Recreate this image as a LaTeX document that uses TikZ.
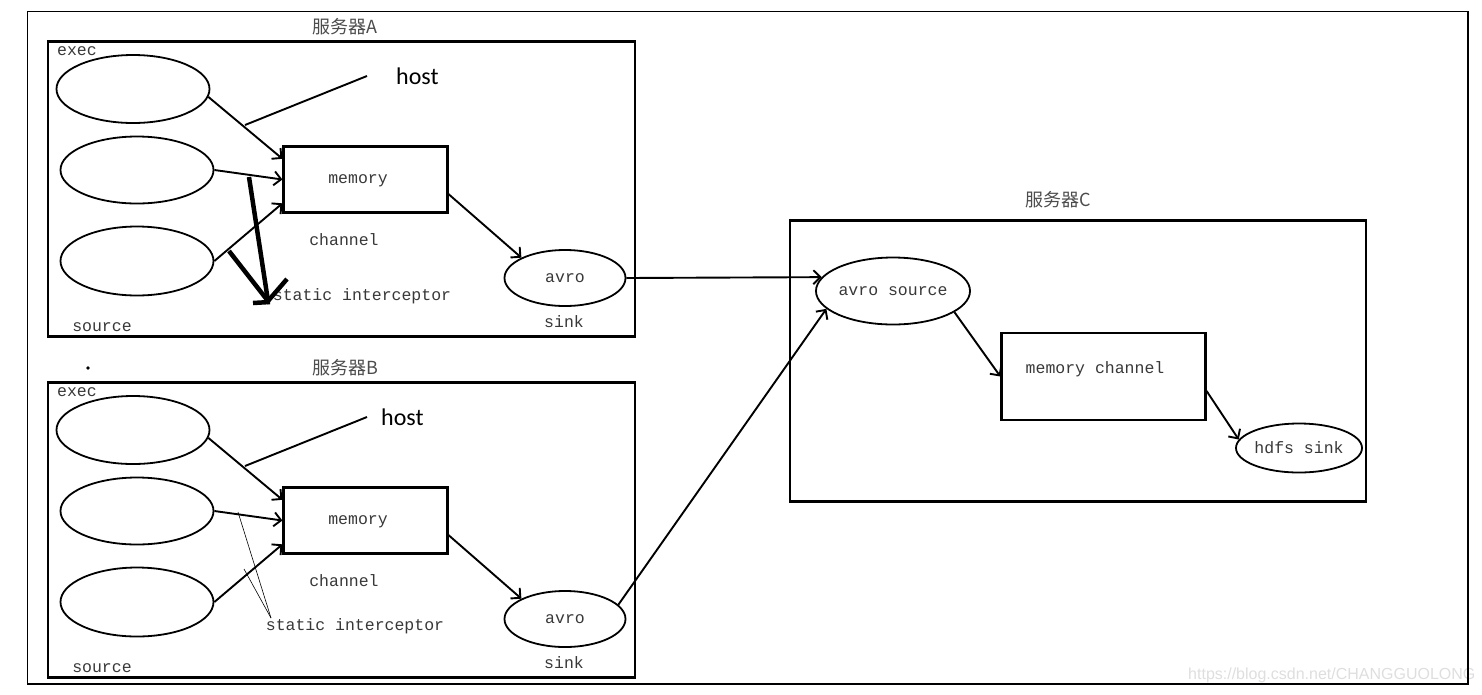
\documentclass[tikz,border=0pt]{standalone}
\usepackage{fontspec}
\setmonofont{Liberation Mono}
\newfontfamily\cjkfont{Noto Sans CJK SC}
\newfontfamily\hostfont{Carlito}
\newfontfamily\markfont{Liberation Sans}
\usetikzlibrary{shapes.geometric,arrows.meta}

\tikzset{
  frame/.style={draw, rectangle, line width=2.2pt, inner sep=0pt},
  pool/.style={draw, ellipse, line width=1.8pt, inner sep=0pt},
  word/.style={font=\ttfamily\fontsize{16.5}{18}\selectfont, text=black!78, inner sep=0pt},
  title/.style={font=\cjkfont\fontsize{18}{20}\selectfont, text=black!70, inner sep=0pt},
  flow/.style={line width=1.9pt, -{Straight Barb[length=7pt,width=14pt]}},
  penstroke/.style={line width=4.5pt},
}

% one agent box: #1 name, #2 shift down, #3 x of host
\newcommand\Server[3]{
  \begin{scope}[yshift=-#2pt]
    \node[frame, minimum width=587pt, minimum height=295pt] (#1-box) at (341.5,189) {};
    \node[title] (#1-title) at (345,27) {服务器#1};
    \node[word] (#1-exec) at (77,51) {exec};
    \node[pool, minimum width=153pt, minimum height=68pt] (#1-in1) at (133,89) {};
    \node[pool, minimum width=153pt, minimum height=67pt] (#1-in2) at (137,170) {};
    \node[pool, minimum width=153pt, minimum height=69pt] (#1-in3) at (137,261) {};
    \node[frame, minimum width=164pt, minimum height=66pt] (#1-mem) at (365.5,179.5) {};
    \node[word] (#1-memory) at (358,181) {memory};
    \node[word] (#1-channel) at (344,240) {channel};
    \node[pool, word, minimum width=121pt, minimum height=56pt] (#1-sink) at (565,278) {avro};
    \node[word] (#1-sinklabel) at (564,322) {sink};
    \node[word] (#1-source) at (102,327) {source};
    \coordinate (#1-tagfoot) at (245,125);
    \coordinate (#1-tagtop) at (367,76);
    \node[font=\hostfont\fontsize{24}{26}\selectfont, anchor=west, inner sep=0pt] (#1-host) at (#3,76) {host};
    \draw[line width=1.9pt] (#1-tagfoot) -- (#1-tagtop);
    \draw[flow] (#1-in1.-6) -- (#1-mem.166);
    \draw[flow] (#1-in2.east) -- (#1-mem.west);
    \draw[flow] (#1-in3.east) -- (#1-mem.196);
    \draw[flow] (#1-mem.350) -- (#1-sink.155);
  \end{scope}
}

\begin{document}
\begin{tikzpicture}[x=1pt, y=-1pt]
  \useasboundingbox (0,0) rectangle (1482,694);
  \node[font=\markfont\fontsize{16}{18}\selectfont, text=black!13, anchor=base west, inner sep=0pt] (csdn) at (1188,679) {https://blog.csdn.net/CHANGGUOLONG};
  \draw[line width=1pt] (1468,11) -- (27,11) -- (27,684);
  \draw[line width=2.5pt] (27,684) -- (1468,684) -- (1468,11);

  \Server{A}{0}{396}
  \Server{B}{341}{381}

  \node[circle, fill, inner sep=1.3pt] (dot) at (88,368) {};

  % interceptor notes
  \node[word] (A-static) at (362,296) {static interceptor};
  \node[word] (B-static) at (355,626) {static interceptor};
  \coordinate (A-pick) at (249,177);
  \coordinate (A-point) at (268,301);
  \coordinate (A-barbl) at (229,251);
  \coordinate (A-barbr) at (287,279);
  \coordinate (A-foot) at (253,303);
  \coordinate (A-footr) at (270,302);
  \draw[penstroke] (A-pick) -- (A-point);
  \draw[penstroke] (A-barbl) -- (A-point) -- (A-barbr);
  \draw[penstroke] (A-foot) -- (A-footr);
  \coordinate (B-pick1) at (238,512);
  \coordinate (B-pick2) at (244,569);
  \coordinate (B-point) at (271,618);
  \draw[line width=0.6pt] (B-pick1) -- (B-point);
  \draw[line width=0.6pt] (B-pick2) -- (B-point);

  % collector
  \node[frame, minimum width=576pt, minimum height=281pt] (C-box) at (1078,361) {};
  \node[title] (C-title) at (1058,200) {服务器C};
  \node[pool, word, minimum width=141pt, minimum height=67pt] (C-src) at (893,291) {avro source};
  \node[frame, minimum width=204pt, minimum height=87pt] (C-mem) at (1103.5,376.5) {};
  \node[word] (C-memory) at (1095,369) {memory channel};
  \node[pool, word, minimum width=125pt, minimum height=49pt] (C-sink) at (1299,448) {hdfs sink};

  \draw[flow] (A-sink.east) -- (C-src.169);
  \draw[flow] (B-sink.15) -- (C-src.195);
  \draw[flow] (C-src.-19) -- (C-mem.west);
  \draw[flow] (C-mem.352) -- (C-sink.172);
\end{tikzpicture}
\end{document}
